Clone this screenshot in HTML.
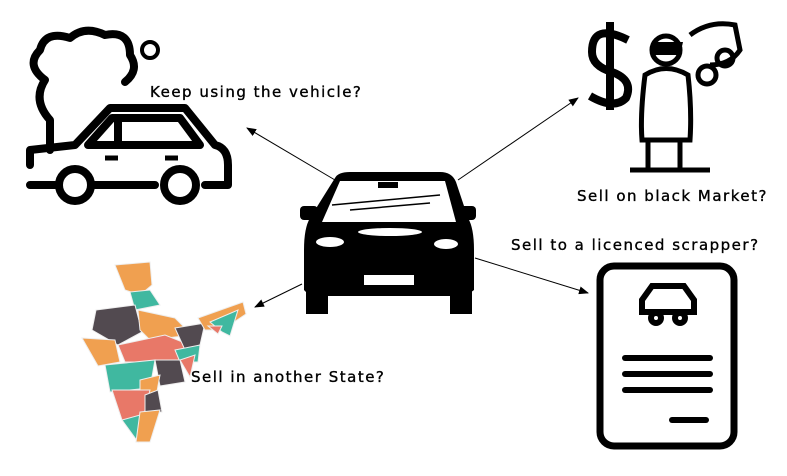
<!DOCTYPE html>
<html><head><style>
html,body{margin:0;padding:0;background:#fff;}
svg{display:block}
text{font-family:"DejaVu Sans","Liberation Sans",sans-serif;font-size:15px;fill:#000;letter-spacing:1.5px;stroke:#000;stroke-width:0.35}
</style></head><body>
<svg width="787" height="476" viewBox="0 0 787 476" xmlns="http://www.w3.org/2000/svg">
<defs><marker id="a" markerWidth="10" markerHeight="8" refX="9" refY="4" orient="auto" markerUnits="userSpaceOnUse"><path d="M0,0 L10,4 L0,8 z" fill="#000"/></marker></defs>
<g stroke="#000" stroke-width="1" marker-end="url(#a)">
<line x1="335" y1="180" x2="247" y2="128"/>
<line x1="458" y1="180" x2="578" y2="98"/>
<line x1="475" y1="258" x2="588" y2="293"/>
<line x1="302" y1="284" x2="255" y2="307"/>
</g>
<!-- smoke car top-left -->
<g fill="none" stroke="#000" stroke-width="8" stroke-linejoin="round" stroke-linecap="round">
<path d="M50,150 L50,120 Q32,100 45,80 Q25,65 40,50 Q45,30 70,38 Q85,25 105,35 Q130,30 130,55 Q140,70 125,82"/>
<path d="M30,165 L30,150 L75,145 L110,108 L185,108 L215,145 Q228,148 228,165 L228,185 L205,185 M155,185 L95,185 M55,185 L30,185"/>
<path d="M118,118 L118,145 M88,145 L112,118 L180,118 L200,145 Z"/>
<circle cx="75" cy="185" r="16"/><circle cx="180" cy="185" r="16"/>
<circle cx="150" cy="50" r="8" stroke-width="4"/>
</g>
<line x1="165" y1="158" x2="178" y2="158" stroke="#000" stroke-width="5"/>
<line x1="105" y1="158" x2="118" y2="158" stroke="#000" stroke-width="5"/>
<!-- center car -->
<g fill="#000">
<path d="M335,178 Q338,172 350,172 L440,172 Q452,172 456,182 L468,218 Q474,228 474,250 L474,290 L466,296 L310,296 L304,290 L304,250 Q304,228 310,218 Z"/>
<rect x="300" y="206" width="18" height="14" rx="4"/><rect x="458" y="206" width="18" height="14" rx="4"/>
<rect x="306" y="290" width="22" height="24"/><rect x="450" y="290" width="22" height="24"/>
</g>
<path d="M340,181 L445,181 L456,222 L322,222 Z" fill="#fff"/>
<rect x="378" y="182" width="20" height="6" fill="#000"/>
<path d="M332,205 L440,195 M350,210 L430,203" stroke="#000" stroke-width="1.5"/>
<rect x="364" y="275" width="50" height="10" fill="#fff"/>
<ellipse cx="330" cy="242" rx="14" ry="5" fill="#fff"/><ellipse cx="446" cy="244" rx="12" ry="5" fill="#fff"/>
<ellipse cx="390" cy="232" rx="32" ry="4" fill="#fff"/>
<!-- dollar man -->
<g fill="none" stroke="#000" stroke-width="8">
<path d="M628,40 Q592,22 592,52 Q592,66 612,72 Q634,80 626,98 Q614,110 590,96 M610,22 L610,110"/>
</g>
<g fill="none" stroke="#000" stroke-width="5">
<circle cx="666" cy="50" r="14"/>
<path d="M645,75 Q640,115 642,140 L690,140 Q692,110 688,75 Q666,62 645,75 Z"/>
<path d="M648,140 L648,168 M680,140 L680,168 M630,170 L710,170"/>
<path d="M690,35 Q710,20 735,25 L740,50 Q730,65 710,65"/>
<circle cx="707" cy="75" r="9"/><circle cx="725" cy="58" r="8"/>
</g>
<path d="M652,42 L683,42 L680,55 L652,55 Z" fill="#000"/>
<!-- document -->
<rect x="600" y="266" width="134" height="180" rx="14" fill="none" stroke="#000" stroke-width="7"/>
<g fill="none" stroke="#000" stroke-width="6" stroke-linecap="round">
<path d="M642,312 L642,300 L652,286 L684,286 L694,300 L694,312 Z"/>
<circle cx="656" cy="318" r="5"/><circle cx="680" cy="318" r="5"/>
<line x1="625" y1="358" x2="710" y2="358"/><line x1="625" y1="374" x2="710" y2="374"/><line x1="625" y1="390" x2="710" y2="390"/>
<line x1="672" y1="420" x2="706" y2="420"/>
</g>
<!-- india map -->
<g stroke="#eee" stroke-width="1">
<path d="M115,265 L150,262 L152,285 L140,295 L125,290 Z" fill="#f0a050"/>
<path d="M130,292 L150,290 L160,305 L135,310 Z" fill="#40b8a0"/>
<path d="M96,310 L135,305 L142,332 L118,345 L92,330 Z" fill="#524a50"/>
<path d="M138,310 L175,318 L192,335 L150,340 L140,330 Z" fill="#f0a050"/>
<path d="M82,338 L115,340 L120,362 L98,366 Z" fill="#f0a050"/>
<path d="M118,345 L165,335 L190,345 L180,362 L125,362 Z" fill="#e87868"/>
<path d="M175,328 L205,323 L200,345 L185,350 Z" fill="#524a50"/>
<path d="M175,350 L200,345 L198,362 L180,362 Z" fill="#40b8a0"/>
<path d="M105,365 L155,360 L150,388 L110,392 Z" fill="#40b8a0"/>
<path d="M155,360 L180,360 L185,382 L160,386 Z" fill="#524a50"/>
<path d="M180,360 L195,355 L190,377 Z" fill="#e87868"/>
<path d="M140,380 L160,375 L155,402 L140,397 Z" fill="#f0a050"/>
<path d="M112,390 L150,390 L142,422 L122,420 Z" fill="#e87868"/>
<path d="M145,395 L158,390 L162,412 L145,412 Z" fill="#524a50"/>
<path d="M122,420 L140,415 L138,442 Z" fill="#40b8a0"/>
<path d="M140,412 L160,410 L150,442 L136,442 Z" fill="#f0a050"/>
<path d="M198,318 L243,302 L246,314 L222,330 L205,330 Z" fill="#f0a050"/>
<path d="M210,322 L238,310 L230,336 L222,332 Z" fill="#40b8a0"/>
<path d="M208,326 L222,326 L218,334 Z" fill="#e87868"/>
</g>
<text x="150" y="97">Keep using the vehicle?</text>
<text x="577" y="201">Sell on black Market?</text>
<text x="511" y="250">Sell to a licenced scrapper?</text>
<text x="191" y="382">Sell in another State?</text>
</svg>
</body></html>
